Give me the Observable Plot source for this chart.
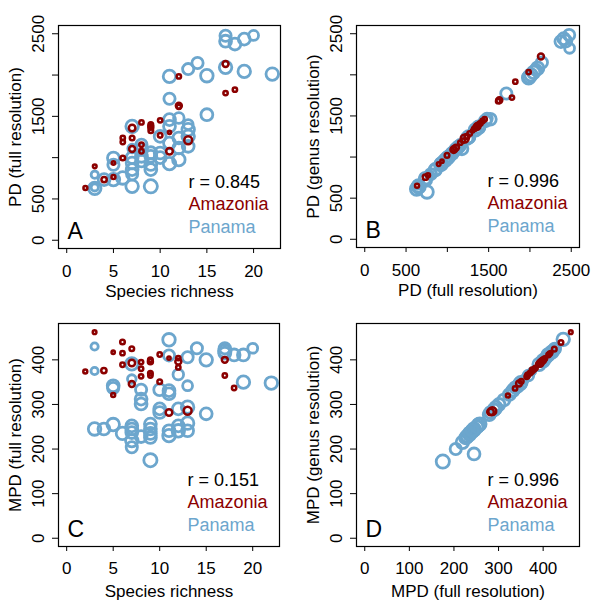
<!DOCTYPE html>
<html><head><meta charset="utf-8">
<script src="https://cdn.jsdelivr.net/npm/d3@7"></script>
<script src="https://cdn.jsdelivr.net/npm/@observablehq/plot@0.6"></script>
<style>
html,body{margin:0;padding:0;background:#fff;}
#fig{position:relative;width:593px;height:604px;overflow:hidden;background:#fff;}
.panel{position:absolute;}
.panel svg{overflow:visible;}
</style></head><body><div id="fig"></div>
<script>
// ---------- Data ----------
// Panama plots
const panRich     = [3,3,3,4,5,5,5,6,7,7,7,7,7,7,7,8,8,8,8,9,9,9,9,9,10,10,10,11,11,11,11,11,11,12,12,12,12,13,13,13,13,13,14,15,15,17,17,17,18,19,19,20,22];
const panPDfull   = [794,640,628,734,996,915,734,754,1379,1110,1000,935,855,653,800,1157,1016,1100,960,1016,917,855,1060,653,1258,1056,1000,1984,1714,1460,1380,1177,927,1480,1238,1117,976,2072,1400,1340,1258,1137,2145,1992,1520,2475,2410,2093,2375,2435,2044,2480,2012];
const panPDgenus  = [785,655,612,742,985,905,722,575,1362,1095,990,925,842,648,792,1145,1005,1090,950,1000,905,850,1045,640,1240,1042,985,1965,1772,1440,1362,1100,915,1470,1225,1105,962,2060,1385,1330,1245,1125,2150,1975,1460,2484,2440,2080,2404,2410,2030,2323,2000];
const panMPDfull  = [430,375,245,245,342,337,255,235,391,357,252,245,237,219,204,333,312,301,228,256,245,235,226,175,333,290,282,445,410,331,324,241,230,367,290,252,241,406,342,294,258,241,426,400,279,426,415,420,411,411,350,426,348];
const panMPDgenus = [428,374,243,246,340,338,254,233,390,356,250,189,236,215,200,331,310,300,226,255,243,236,225,172,332,288,282,446,409,330,322,240,229,365,288,250,240,404,340,293,256,242,424,398,277,425,414,418,410,412,349,424,346];
const panWeight   = [5.5,5.5,9.5,9,9,8.5,9.5,9.5,9.5,6.5,9,9,9,9.5,8.5,8.5,9,9,9,9,9,9,9,10,9,9,9,9.5,8.5,9,9,9,9.5,8,9,9,9.5,8.5,7.5,9.5,9.5,9,8.5,9.5,9,8.5,9,9.5,9,9,9.5,7.5,9.5];

// Amazonia plots
const amzRich     = [2,3,4,5,5,6,6,6,7,7,7,8,8,8,9,9,9,9,10,10,11,11,12,12,12,13,17,17,18];
const amzPDfull   = [633,895,734,935,766,996,1238,1190,1359,1238,1105,1427,1157,1077,1400,1367,1327,1385,1452,1270,1306,1077,1984,1629,1615,1210,2133,1782,1823];
const amzPDgenus  = [650,915,755,950,780,1020,1250,1200,1370,1250,1115,1440,1175,1095,1410,1380,1345,1400,1460,1285,1320,1090,2033,1690,1680,1225,2222,1723,1917];
const amzMPDfull  = [374,462,376,417,321,440,415,389,393,425,346,395,380,363,400,396,370,365,412,351,404,282,404,396,383,286,400,365,337];
const amzMPDgenus = [373,462,377,416,320,439,414,390,392,424,347,394,379,362,399,395,370,366,411,352,403,283,403,396,382,285,399,364,336];
const amzWeight   = [3,2.8,4,2.5,3,3.5,3.3,3.3,5,3.5,4.5,3.3,3.3,3.3,3.5,3.8,3.5,3.3,3.3,3.5,2.5,5,3.3,4.5,3.3,6,4.5,3.3,3.3];

// Axis ticks and labels
const richTicks = [0,5,10,15,20];
const richTickLabels = ["0","5","10","15","20"];
const pdTicks = [0,500,1000,1500,2000,2500];
const pdTickLabels = ["0","500","","1500","","2500"];
const mpdTicks = [0,100,200,300,400];
const mpdTickLabels = ["0","100","200","300","400"];

const rValues = ["r = 0.845","r = 0.996","r = 0.151","r = 0.996"];
const regionNames = ["Amazonia","Panama"];
const panelLetters = ["A","B","C","D"];

// ---------- Build tables ----------
const panama = panRich.map((d,i)=>({rich:d, pdF:panPDfull[i], pdG:panPDgenus[i], mpdF:panMPDfull[i], mpdG:panMPDgenus[i], w:panWeight[i]}));
const amazonia = amzRich.map((d,i)=>({rich:d, pdF:amzPDfull[i], pdG:amzPDgenus[i], mpdF:amzMPDfull[i], mpdG:amzMPDgenus[i], w:amzWeight[i]}));

const RED = "#8B0000", BLUE = "#6CA6CD";
const FONT = "'Liberation Sans', Arial, Helvetica, sans-serif";
const pad = ([a,b]) => [a-0.04*(b-a), b+0.04*(b-a)];
const fmt = (ticks, labels) => { const m = new Map(ticks.map((t,i)=>[t,labels[i]])); return d => m.get(d) ?? ""; };

function panel(o){
  const plot = Plot.plot({
    width: o.w, height: o.h,
    marginLeft: o.ml, marginRight: o.mr, marginTop: o.mt, marginBottom: o.mb,
    x: {domain: pad(o.xd)},
    y: {domain: pad(o.yd)},
    r: {type: "linear", domain: [0,10], range: [0,6.6]},
    style: {fontFamily: FONT, fontSize: "17px", color: "black", background: "transparent", overflow: "visible"},
    marks: [
      Plot.axisX({ticks: o.xt, tickFormat: fmt(o.xt,o.xl), tickSize: 5, tickPadding: o.xpad, fontSize: 17, label: null, stroke: "black"}),
      Plot.axisY({ticks: o.yt, tickFormat: fmt(o.yt,o.yl), tickSize: 6, tickPadding: 9, tickRotate: -90, fontSize: 17, label: null, stroke: "black"}),
      Plot.dot(panama, {x: o.xk, y: o.yk, r: "w", stroke: BLUE, strokeWidth: 2.8, fill: "none"}),
      Plot.dot(amazonia, {x: o.xk, y: o.yk, r: "w", stroke: RED, strokeWidth: 2.5, fill: "none"}),
      Plot.frame({stroke: "black", strokeWidth: 1.2}),
      Plot.text([o.xlab], {frameAnchor: "bottom", text: d=>d, dy: o.xlabdy, lineAnchor: "bottom", fontSize: 17, fill: "black"}),
      Plot.text([o.ylab], {frameAnchor: "left", text: d=>d, rotate: -90, dx: -38, lineAnchor: "bottom", textAnchor: "middle", fontSize: 17, fill: "black"}),
      Plot.text([o.rtxt], {frameAnchor: "bottom-right", text: d=>d, textAnchor: "start", dx: -92, dy: -61, lineAnchor: "bottom", fontSize: 18, fill: "black"}),
      Plot.text([regionNames[0]], {frameAnchor: "bottom-right", text: d=>d, textAnchor: "start", dx: -92, dy: -39, lineAnchor: "bottom", fontSize: 18, fill: RED}),
      Plot.text([regionNames[1]], {frameAnchor: "bottom-right", text: d=>d, textAnchor: "start", dx: -92, dy: -16, lineAnchor: "bottom", fontSize: 18, fill: BLUE}),
      Plot.text([o.letter], {frameAnchor: "bottom-left", text: d=>d, textAnchor: "start", dx: 9, dy: -10, lineAnchor: "bottom", fontSize: 23, fill: "black"})
    ]
  });
  const div = document.createElement("div");
  div.className = "panel";
  div.style.left = o.left + "px";
  div.style.top = o.top + "px";
  div.appendChild(plot);
  document.getElementById("fig").appendChild(div);
}

panel({left:0, top:0, w:296, h:300, ml:58, mr:16, mt:25, mb:52,
  xd:[0,22], yd:[0,2500], xt:richTicks, xl:richTickLabels, yt:pdTicks, yl:pdTickLabels,
  xk:"rich", yk:"pdF", xlab:"Species richness", ylab:"PD (full resolution)", xpad:11, xlabdy:48,
  rtxt:rValues[0], letter:panelLetters[0]});
panel({left:296, top:0, w:297, h:300, ml:60, mr:14, mt:25, mb:53,
  xd:[0,2500], yd:[0,2500], xt:pdTicks, xl:pdTickLabels, yt:pdTicks, yl:pdTickLabels,
  xk:"pdF", yk:"pdG", xlab:"PD (full resolution)", ylab:"PD (genus resolution)", xpad:11, xlabdy:48,
  rtxt:rValues[1], letter:panelLetters[1]});
panel({left:0, top:300, w:296, h:304, ml:58, mr:17, mt:23, mb:58,
  xd:[0,22], yd:[0,463], xt:richTicks, xl:richTickLabels, yt:mpdTicks, yl:mpdTickLabels,
  xk:"rich", yk:"mpdF", xlab:"Species richness", ylab:"MPD (full resolution)", xpad:10, xlabdy:50,
  rtxt:rValues[2], letter:panelLetters[2]});
panel({left:296, top:300, w:297, h:304, ml:60, mr:14, mt:23, mb:58,
  xd:[0,463], yd:[0,463], xt:mpdTicks, xl:mpdTickLabels, yt:mpdTicks, yl:mpdTickLabels,
  xk:"mpdF", yk:"mpdG", xlab:"MPD (full resolution)", ylab:"MPD (genus resolution)", xpad:10, xlabdy:50,
  rtxt:rValues[3], letter:panelLetters[3]});
</script>
</body></html>
